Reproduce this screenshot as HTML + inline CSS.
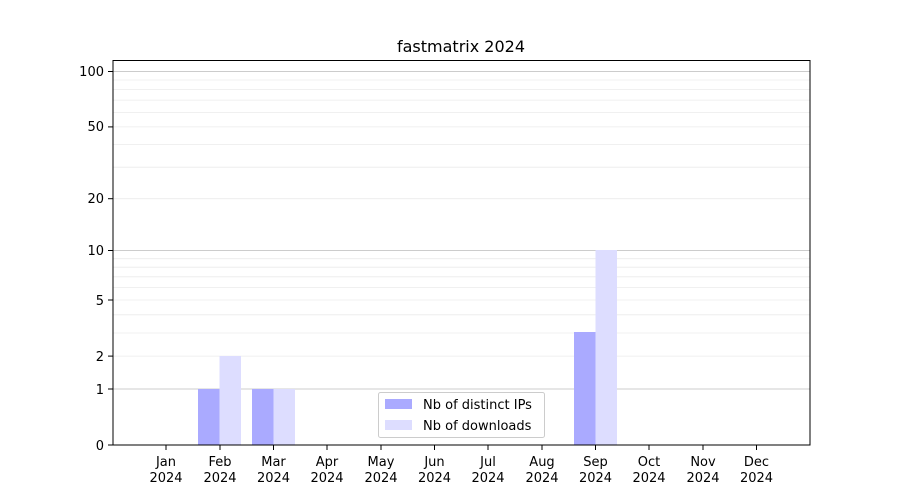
<!DOCTYPE html>
<html><head><meta charset="utf-8"><style>body{margin:0;background:#fff}svg{display:block;font-family:"DejaVu Sans","Liberation Sans",sans-serif}</style></head>
<body>
<svg width="900" height="500" viewBox="0 0 900 500" xmlns="http://www.w3.org/2000/svg">
<rect width="900" height="500" fill="#fff"/>
<text x="461" y="52" font-size="16" text-anchor="middle">fastmatrix 2024</text>
<g stroke="#ebebeb" stroke-width="0.8">
<line x1="113" x2="810" y1="356.1" y2="356.1"/><line x1="113" x2="810" y1="333" y2="333"/><line x1="113" x2="810" y1="314.8" y2="314.8"/><line x1="113" x2="810" y1="300" y2="300"/><line x1="113" x2="810" y1="287.6" y2="287.6"/><line x1="113" x2="810" y1="276.8" y2="276.8"/><line x1="113" x2="810" y1="267.2" y2="267.2"/><line x1="113" x2="810" y1="258.7" y2="258.7"/><line x1="113" x2="810" y1="198.7" y2="198.7"/><line x1="113" x2="810" y1="167.2" y2="167.2"/><line x1="113" x2="810" y1="144.5" y2="144.5"/><line x1="113" x2="810" y1="126.9" y2="126.9"/><line x1="113" x2="810" y1="112.4" y2="112.4"/><line x1="113" x2="810" y1="100.1" y2="100.1"/><line x1="113" x2="810" y1="89.4" y2="89.4"/><line x1="113" x2="810" y1="80" y2="80"/>
</g>
<g stroke="#cccccc" stroke-width="1">
<line x1="113" x2="810" y1="389" y2="389"/><line x1="113" x2="810" y1="250.5" y2="250.5"/><line x1="113" x2="810" y1="71.5" y2="71.5"/>
</g>
<g fill="#aaaaff">
<rect x="198" y="389" width="21.5" height="56"/><rect x="252" y="389" width="21.5" height="56"/><rect x="574" y="332" width="21.5" height="113"/>
</g>
<g fill="#ddddff">
<rect x="219.5" y="356" width="21.5" height="89"/><rect x="273.5" y="389" width="21.5" height="56"/><rect x="595.5" y="250" width="21.5" height="195"/>
</g>
<rect x="113" y="60.5" width="697" height="384.5" fill="none" stroke="#000" stroke-width="1"/>
<g stroke="#000" stroke-width="1">
<line x1="108" x2="113" y1="445" y2="445"/><line x1="108" x2="113" y1="389" y2="389"/><line x1="108" x2="113" y1="356.1" y2="356.1"/><line x1="108" x2="113" y1="300" y2="300"/><line x1="108" x2="113" y1="250.5" y2="250.5"/><line x1="108" x2="113" y1="198.7" y2="198.7"/><line x1="108" x2="113" y1="126.9" y2="126.9"/><line x1="108" x2="113" y1="71.5" y2="71.5"/>
</g>
<g font-size="13" text-anchor="end">
<text x="104" y="450">0</text><text x="104" y="394">1</text><text x="104" y="361">2</text><text x="104" y="305">5</text><text x="104" y="255">10</text><text x="104" y="203">20</text><text x="104" y="131">50</text><text x="104" y="76">100</text>
</g>
<g stroke="#000">
<line x1="166" x2="166" y1="445" y2="450"/><line x1="220" x2="220" y1="445" y2="450"/><line x1="273.5" x2="273.5" y1="445" y2="450"/><line x1="327" x2="327" y1="445" y2="450"/><line x1="381" x2="381" y1="445" y2="450"/><line x1="434.5" x2="434.5" y1="445" y2="450"/><line x1="488" x2="488" y1="445" y2="450"/><line x1="542" x2="542" y1="445" y2="450"/><line x1="595.5" x2="595.5" y1="445" y2="450"/><line x1="649" x2="649" y1="445" y2="450"/><line x1="703" x2="703" y1="445" y2="450"/><line x1="756.5" x2="756.5" y1="445" y2="450"/>
</g>
<g font-size="13" text-anchor="middle">
<text x="166" y="466">Jan</text><text x="166" y="482">2024</text>
<text x="220" y="466">Feb</text><text x="220" y="482">2024</text>
<text x="273.5" y="466">Mar</text><text x="273.5" y="482">2024</text>
<text x="327" y="466">Apr</text><text x="327" y="482">2024</text>
<text x="381" y="466">May</text><text x="381" y="482">2024</text>
<text x="434.5" y="466">Jun</text><text x="434.5" y="482">2024</text>
<text x="488" y="466">Jul</text><text x="488" y="482">2024</text>
<text x="542" y="466">Aug</text><text x="542" y="482">2024</text>
<text x="595.5" y="466">Sep</text><text x="595.5" y="482">2024</text>
<text x="649" y="466">Oct</text><text x="649" y="482">2024</text>
<text x="703" y="466">Nov</text><text x="703" y="482">2024</text>
<text x="756.5" y="466">Dec</text><text x="756.5" y="482">2024</text>
</g>
<rect x="378.5" y="392.5" width="166" height="45" rx="2" fill="#fff" fill-opacity="0.8" stroke="#cccccc"/>
<rect x="385" y="399" width="27" height="10" fill="#aaaaff"/>
<rect x="385" y="420" width="27" height="10" fill="#ddddff"/>
<text x="423" y="409" font-size="13">Nb of distinct IPs</text>
<text x="423" y="430" font-size="13">Nb of downloads</text>
</svg>
</body></html>
